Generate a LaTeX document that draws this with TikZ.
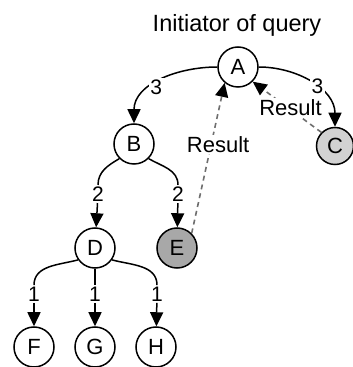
\documentclass[tikz,border=0pt]{standalone}
\usepackage{fontspec}
\setmainfont{Liberation Sans}
\usetikzlibrary{arrows.meta,positioning}
\definecolor{hitlight}{HTML}{D2D2D2}
\definecolor{hitdark}{HTML}{A8A8A8}
\definecolor{reply}{HTML}{6E6E6E}

\begin{document}
\begin{tikzpicture}[
  x=1pt, y=1pt,
  peer/.style={draw, circle, line width=1.5pt, minimum size=40pt, inner sep=0pt,
               font=\fontsize{22}{25}\selectfont},
  hop/.style={font=\fontsize{21}{24}\selectfont, fill=white, inner sep=1.5pt},
  arr/.style={-{Triangle[length=14pt, width=13pt]}, line width=1.5pt},
  link/.style={line width=1.5pt},
  res/.style={-{Triangle[length=14pt, width=13pt, color=black]}, draw=reply,
              dash pattern=on 5pt off 4pt, line width=1.6pt}
]
  \useasboundingbox (0,0) rectangle (353,367);

  \node[font=\fontsize{23.5}{27}\selectfont, anchor=base] (title) at (237,335) {Initiator of query};

  \node[peer] (A) at (238,300) {A};
  \node[peer] (B) at (134,223) {B};
  \node[peer, fill=hitlight, minimum size=37pt] (C) at (335,221) {C};
  \node[peer] (D) at (95,119) {D};
  \node[peer, fill=hitdark] (E) at (177,119) {E};
  \node[peer] (F) at (34,20) {F};
  \node[peer] (G) at (95,20) {G};
  \node[peer] (H) at (156,20) {H};

  % hop counts
  \node[hop] (bd) at (98,173) {2};
  \node[hop] (be) at (178,173) {2};
  \node[hop] (df) at (34,73) {1};
  \node[hop] (dg) at (95,73) {1};
  \node[hop] (dh) at (157,73) {1};

  % query
  \draw[arr] (A.west) to[out=180, in=90] node[hop, pos=0.55, yshift=-4pt] {3} (B.north);
  \draw[arr] (A.east) to[out=0, in=90] node[hop, pos=0.58, yshift=2pt] {3} (C.north);
  \draw[link] (B.225) to[out=210, in=90] (bd.north);
  \draw[link] (B.315) to[out=330, in=90] (be.north);
  \draw[arr] (bd) -- (D);
  \draw[arr] (be) -- (E);
  \draw[link] (D.215) to[out=195, in=90] (df.north);
  \draw[link] (D.south) -- (dg.north);
  \draw[link] (D.325) to[out=345, in=90] (dh.north);
  \draw[arr] (df) -- (F);
  \draw[arr] (dg) -- (G);
  \draw[arr] (dh) -- (H);

  % replies
  \draw[res] (E.45) -- node[hop, font=\fontsize{22}{25}\selectfont, pos=0.59, xshift=7pt] {Result} (A.230);
  \draw[res] (C.135) -- node[hop, font=\fontsize{22}{25}\selectfont, pos=0.45, yshift=2pt] {Result} (A.315);
\end{tikzpicture}
\end{document}
